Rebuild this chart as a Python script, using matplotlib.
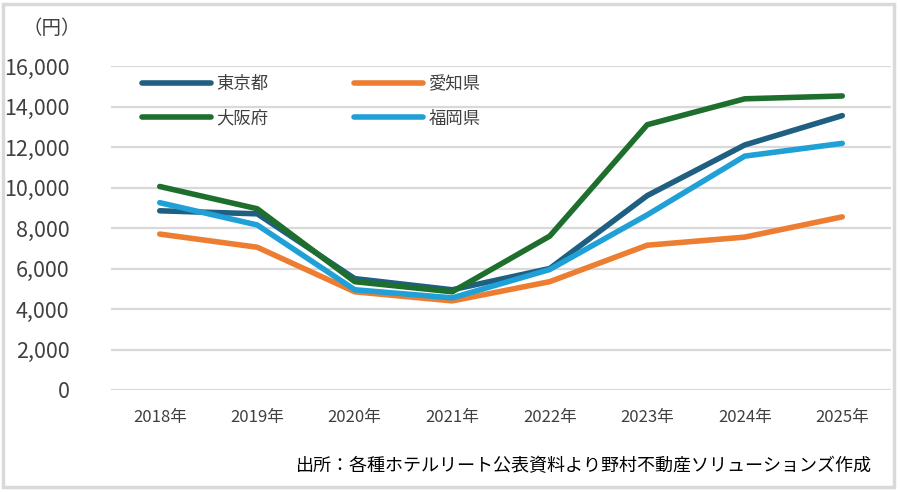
import matplotlib.pyplot as plt
from matplotlib.patches import Rectangle
from matplotlib.ticker import FuncFormatter

plt.rcParams['font.family'] = ['Noto Sans CJK JP', 'DejaVu Sans']

# DATA (yen)
years = ['2018年', '2019年', '2020年', '2021年', '2022年', '2023年', '2024年', '2025年']
tokyo   = [8850, 8700, 5500, 4950, 6000, 9600, 12100, 13550]
aichi   = [7700, 7050, 4850, 4400, 5350, 7150, 7550, 8550]
osaka   = [10050, 8950, 5350, 4850, 7600, 13100, 14380, 14520]
fukuoka = [9250, 8150, 4950, 4550, 5950, 8650, 11550, 12180]

series = [
    ('東京都', tokyo,   '#1F5F82'),
    ('愛知県', aichi,   '#ED7D31'),
    ('大阪府', osaka,   '#1E6E2D'),
    ('福岡県', fukuoka, '#1FA0D6'),
]

fig = plt.figure(figsize=(9, 4.92), dpi=100)
ax  = fig.add_axes([111/900, 1-390/492, 780/900, 324/492])

x = range(len(years))
lines = {}
for name, vals, color in series:
    lines[name], = ax.plot(x, vals, color=color, lw=4, solid_capstyle='round',
                           solid_joinstyle='round', label=name)

ax.set_xlim(-0.5, len(years)-0.5)
ax.set_ylim(0, 16000)
ax.set_yticks(range(0, 16001, 2000))
ax.yaxis.set_major_formatter(FuncFormatter(lambda v, p: f'{int(v):,}'))
ax.set_xticks(list(x))
ax.set_xticklabels(years)

ax.grid(axis='y', color='#D9D9D9', lw=1.6)
ax.set_axisbelow(True)
for s in ax.spines.values():
    s.set_visible(False)
ax.tick_params(axis='y', length=0, pad=30, labelsize=15.5, labelcolor='#404040')
ax.tick_params(axis='x', length=0, pad=14, labelsize=12, labelcolor='#404040')

# legend: rows Tokyo/Aichi, Osaka/Fukuoka
order = ['東京都', '大阪府', '愛知県', '福岡県']
fig.legend([lines[n] for n in order], order, ncol=2, frameon=False,
           loc='upper left', bbox_to_anchor=(142/900, 1-75/492),
           borderpad=0, borderaxespad=0, handlelength=4.0, handletextpad=0.3,
           columnspacing=4.9, labelspacing=0.95, fontsize=12.5,
           labelcolor='#404040')

fig.text(22/900, 1-28/492, '（円）', fontsize=14, color='#404040', va='center')
fig.text(872/900, 1-466/492, '出所：各種ホテルリート公表資料より野村不動産ソリューションズ作成',
         fontsize=13, color='black', ha='right', va='center')

fig.patches.append(Rectangle((3/900, 5/492), 891/900, 483/492, transform=fig.transFigure,
                             fill=False, edgecolor='#D9D9D9', lw=2.5))

fig.savefig('out.png', dpi=100)
